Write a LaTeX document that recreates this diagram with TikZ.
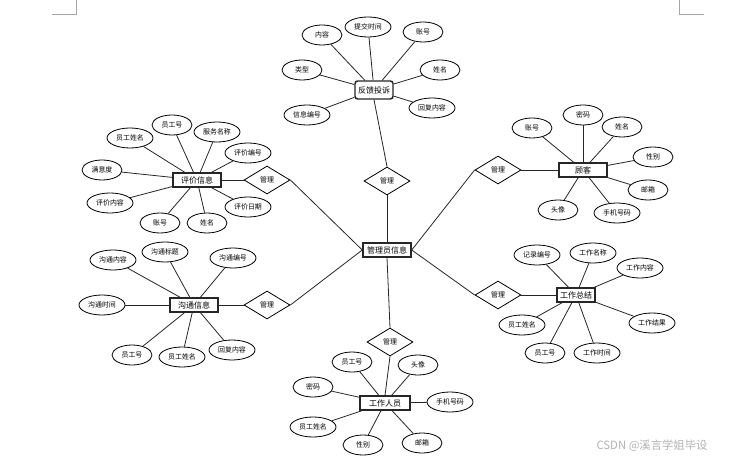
\documentclass[tikz,border=0pt]{standalone}
\usepackage{fontspec}
\newfontfamily\cjk{Noto Sans CJK SC}
\usetikzlibrary{shapes.geometric}
\begin{document}
\begin{tikzpicture}[x=0.75pt,y=-0.75pt,
  conn/.style={draw=black!85,line width=0.6pt},
  attr/.style={ellipse,draw=black,line width=0.6pt,fill=white,minimum width=30pt,minimum height=15pt,inner sep=0pt,font=\cjk\fontsize{5.2}{6}\selectfont},
  attrw/.style={attr,minimum width=34.5pt},
  ent/.style={rectangle,draw=black!85,line width=1.1pt,fill=white,minimum width=36pt,minimum height=10.5pt,inner sep=1pt,font=\cjk\fontsize{6}{7}\selectfont},
  rel/.style={diamond,draw=black,line width=0.6pt,fill=white,minimum width=34.5pt,minimum height=21pt,inner sep=0pt,aspect=1.6,font=\cjk\fontsize{5.2}{6}\selectfont},
  cropmark/.style={draw=black!35,line width=0.6pt}]
\useasboundingbox (0,0) rectangle (730,459);

% corner marks
\coordinate (tl0) at (76,0); \coordinate (tl1) at (76,14); \coordinate (tl2) at (52,14);
\coordinate (tr0) at (679,0); \coordinate (tr1) at (679,14); \coordinate (tr2) at (704,14);
\draw[cropmark] (tl0) -- (tl1) -- (tl2);
\draw[cropmark] (tr0) -- (tr1) -- (tr2);

% entities
\node[ent,minimum width=36pt] (c) at (387,250) {管理员信息};
\node[ent,minimum width=28.5pt,minimum height=13.5pt,rounded corners=2pt] (fk) at (374,90) {反馈投诉};
\node[ent] (pj) at (197,180) {评价信息};
\node[ent] (gk) at (583,170) {顾客};
\node[ent] (gt) at (194,305) {沟通信息};
\node[ent,minimum width=28.5pt] (zj) at (576,295) {工作总结};
\node[ent,minimum width=37.5pt] (ry) at (385,403) {工作人员};

% relations
\node[rel] (d1) at (387,181) {管理};
\node[rel] (d2) at (267,180) {管理};
\node[rel] (d3) at (498,170) {管理};
\node[rel] (d4) at (267,305) {管理};
\node[rel] (d5) at (498,295) {管理};
\node[rel] (d6) at (390,342) {管理};

\draw[conn] (d1.south) -- (c.north);
\draw[conn] (d1.north) -- (fk.south);
\draw[conn] (d2.east) -- (c.west);
\draw[conn] (d2.west) -- (pj.east);
\draw[conn] (d3.west) -- (c.east);
\draw[conn] (d3.east) -- (gk.west);
\draw[conn] (d4.east) -- (c.west);
\draw[conn] (d4.west) -- (gt.east);
\draw[conn] (d5.west) -- (c.east);
\draw[conn] (d5.east) -- (zj.west);
\draw[conn] (d6.north) -- (c.south);
\draw[conn] (d6.south) -- (ry.north);

% 反馈投诉 attributes
\node[attr]  (fk1) at (322,35) {内容};
\node[attrw] (fk2) at (368,27) {提交时间};
\node[attr]  (fk3) at (423,32) {账号};
\node[attr]  (fk4) at (302,70) {类型};
\node[attr]  (fk5) at (440,70) {姓名};
\node[attrw] (fk6) at (432,108) {回复内容};
\node[attrw] (fk7) at (307,115) {信息编号};
\foreach \a in {fk1,fk2,fk3,fk4,fk5,fk6,fk7} \draw[conn] (\a) -- (fk);

% 评价信息 attributes
\node[attr]  (pj1) at (172,125) {员工号};
\node[attrw] (pj2) at (217,132) {服务名称};
\node[attrw] (pj3) at (130,138) {员工姓名};
\node[attrw] (pj4) at (248,153) {评价编号};
\node[attr]  (pj5) at (102,170) {满意度};
\node[attrw] (pj6) at (110,203) {评价内容};
\node[attrw] (pj7) at (248,207) {评价日期};
\node[attr]  (pj8) at (160,223) {账号};
\node[attr]  (pj9) at (207,223) {姓名};
\foreach \a in {pj1,pj2,pj3,pj4,pj5,pj6,pj7,pj8,pj9} \draw[conn] (\a) -- (pj);

% 顾客 attributes
\node[attr]  (gk1) at (583,115) {密码};
\node[attr]  (gk2) at (532,128) {账号};
\node[attr]  (gk3) at (622,127) {姓名};
\node[attr]  (gk4) at (653,157) {性别};
\node[attr]  (gk5) at (648,190) {邮箱};
\node[attr]  (gk6) at (558,210) {头像};
\node[attrw] (gk7) at (617,213) {手机号码};
\foreach \a in {gk1,gk2,gk3,gk4,gk5,gk6,gk7} \draw[conn] (\a) -- (gk);

% 沟通信息 attributes
\node[attrw] (gt1) at (113,260) {沟通内容};
\node[attrw] (gt2) at (165,252) {沟通标题};
\node[attrw] (gt3) at (233,258) {沟通编号};
\node[attrw] (gt4) at (102,305) {沟通时间};
\node[attr]  (gt5) at (132,355) {员工号};
\node[attrw] (gt6) at (182,357) {员工姓名};
\node[attrw] (gt7) at (232,350) {回复内容};
\foreach \a in {gt1,gt2,gt3,gt4,gt5,gt6,gt7} \draw[conn] (\a) -- (gt);

% 工作总结 attributes
\node[attrw] (zj1) at (537,255) {记录编号};
\node[attrw] (zj2) at (593,253) {工作名称};
\node[attrw] (zj3) at (640,268) {工作内容};
\node[attrw] (zj4) at (522,325) {员工姓名};
\node[attrw] (zj5) at (652,323) {工作结果};
\node[attr]  (zj6) at (545,353) {员工号};
\node[attrw] (zj7) at (597,353) {工作时间};
\foreach \a in {zj1,zj2,zj3,zj4,zj5,zj6,zj7} \draw[conn] (\a) -- (zj);

% 工作人员 attributes
\node[attr]  (ry1) at (352,362) {员工号};
\node[attr]  (ry2) at (418,365) {头像};
\node[attr]  (ry3) at (313,387) {密码};
\node[attrw] (ry4) at (450,402) {手机号码};
\node[attrw] (ry5) at (313,427) {员工姓名};
\node[attr]  (ry6) at (363,445) {性别};
\node[attr]  (ry7) at (422,443) {邮箱};
\foreach \a in {ry1,ry2,ry3,ry4,ry5,ry6,ry7} \draw[conn] (\a) -- (ry);

% watermark
\node[text=black!30,font=\cjk\fontsize{8.5}{10}\selectfont,inner sep=0pt] (wm) at (652,446) {CSDN @溪言学姐毕设};
\end{tikzpicture}
\end{document}
